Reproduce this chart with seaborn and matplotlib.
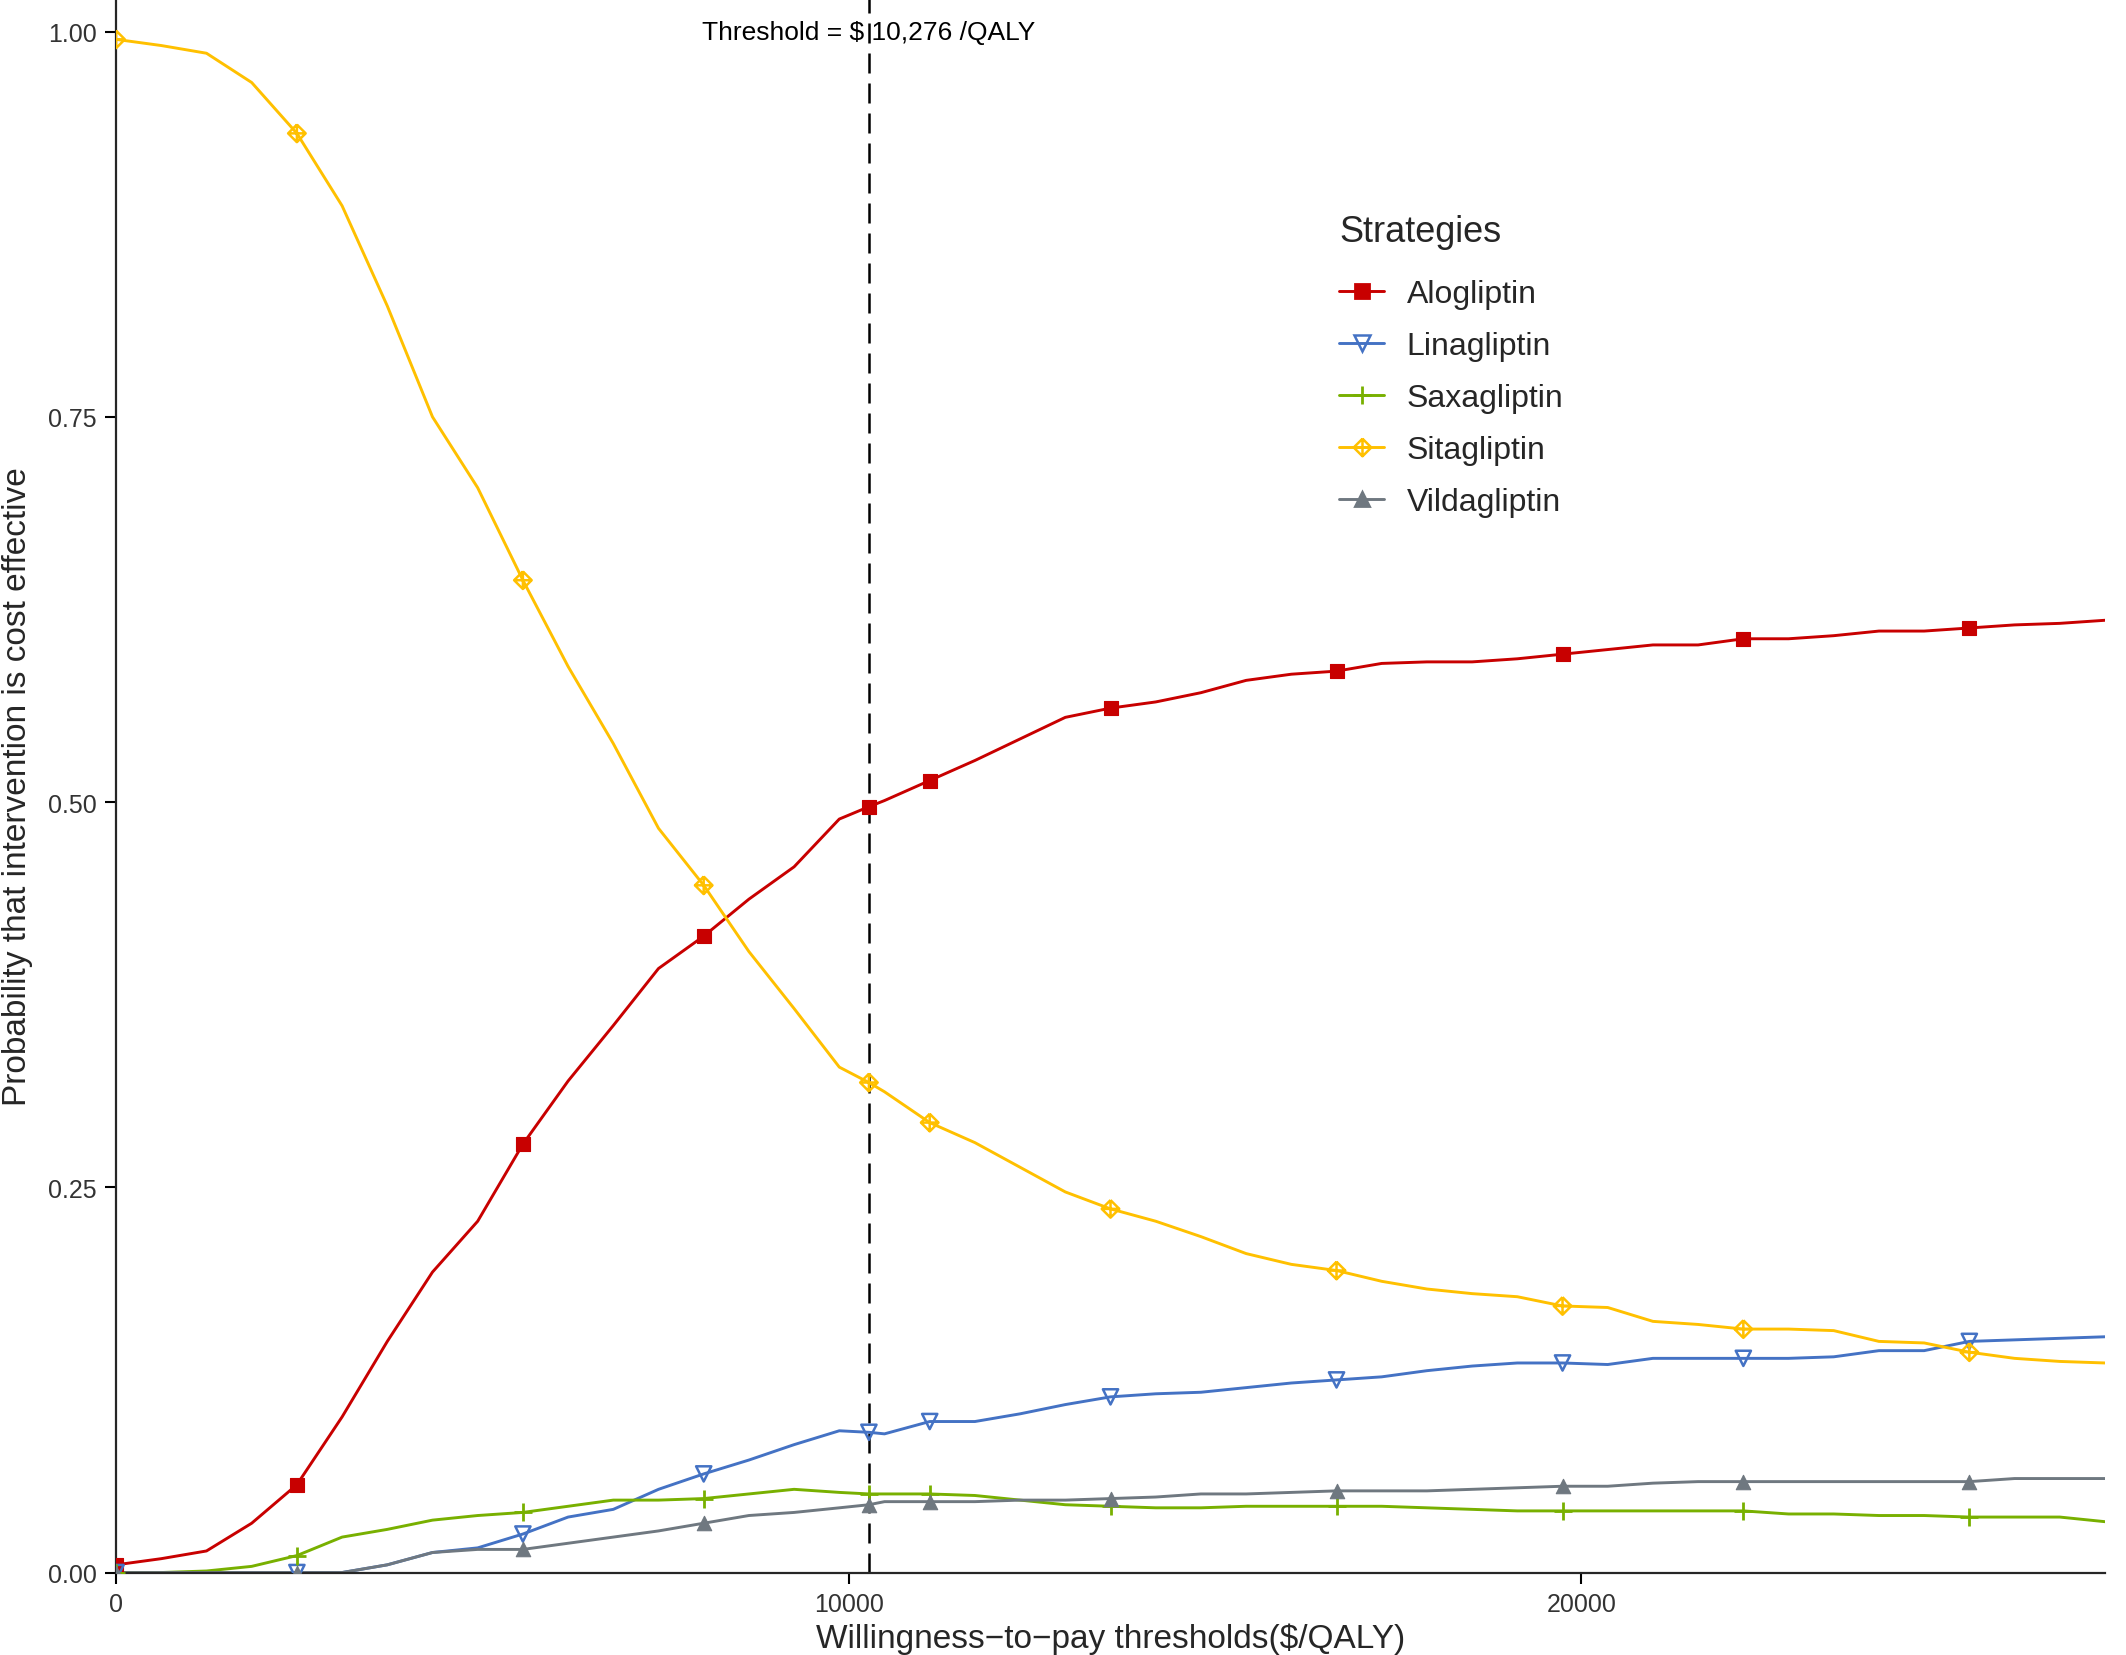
import numpy as np
import pandas as pd
import matplotlib
matplotlib.use("Agg")
import matplotlib.pyplot as plt
from matplotlib.path import Path
from matplotlib.lines import Line2D
import seaborn as sns

# willingness-to-pay grid ($/QALY), threshold point included
wtp = [0, 617, 1234, 1851, 2468, 3085, 3702, 4319, 4936, 5553, 6170, 6787,
       7404, 8021, 8638, 9255, 9872, 10276, 10489, 11106, 11723, 12340, 12957,
       13574, 14191, 14808, 15425, 16042, 16659, 17276, 17893, 18510, 19127,
       19744, 20361, 20978, 21595, 22212, 22829, 23446, 24063, 24680, 25297,
       25914, 26531, 27148]

alogliptin = [0.005, 0.009, 0.014, 0.032, 0.057, 0.101, 0.150, 0.195, 0.228, 0.278,
              0.319, 0.355, 0.392, 0.413, 0.437, 0.458, 0.489, 0.497, 0.501, 0.514,
              0.527, 0.541, 0.555, 0.561, 0.565, 0.571, 0.579, 0.583, 0.585, 0.590,
              0.591, 0.591, 0.593, 0.596, 0.599, 0.602, 0.602, 0.606, 0.606, 0.608,
              0.611, 0.611, 0.613, 0.615, 0.616, 0.618]
linagliptin = [0.0, 0.0, 0.0, 0.0, 0.0, 0.0, 0.005, 0.013, 0.016, 0.025,
               0.036, 0.041, 0.054, 0.064, 0.073, 0.083, 0.092, 0.091, 0.090, 0.098,
               0.098, 0.103, 0.109, 0.114, 0.116, 0.117, 0.120, 0.123, 0.125, 0.127,
               0.131, 0.134, 0.136, 0.136, 0.135, 0.139, 0.139, 0.139, 0.139, 0.140,
               0.144, 0.144, 0.150, 0.151, 0.152, 0.153]
saxagliptin = [0.0, 0.0, 0.001, 0.004, 0.011, 0.023, 0.028, 0.034, 0.037, 0.039,
               0.043, 0.047, 0.047, 0.048, 0.051, 0.054, 0.052, 0.051, 0.051, 0.051,
               0.050, 0.047, 0.044, 0.043, 0.042, 0.042, 0.043, 0.043, 0.043, 0.043,
               0.042, 0.041, 0.040, 0.040, 0.040, 0.040, 0.040, 0.040, 0.038, 0.038,
               0.037, 0.037, 0.036, 0.036, 0.036, 0.033]
sitagliptin = [0.995, 0.991, 0.986, 0.967, 0.934, 0.887, 0.822, 0.750, 0.704, 0.644,
               0.588, 0.538, 0.483, 0.446, 0.403, 0.366, 0.328, 0.318, 0.312, 0.292,
               0.279, 0.263, 0.247, 0.236, 0.228, 0.218, 0.207, 0.200, 0.196, 0.189,
               0.184, 0.181, 0.179, 0.173, 0.172, 0.163, 0.161, 0.158, 0.158, 0.157,
               0.150, 0.149, 0.143, 0.139, 0.137, 0.136]
vildagliptin = [0.0, 0.0, 0.0, 0.0, 0.0, 0.0, 0.005, 0.013, 0.015, 0.015,
                0.019, 0.023, 0.027, 0.032, 0.037, 0.039, 0.042, 0.044, 0.046, 0.046,
                0.046, 0.047, 0.047, 0.048, 0.049, 0.051, 0.051, 0.052, 0.053, 0.053,
                0.053, 0.054, 0.055, 0.056, 0.056, 0.058, 0.059, 0.059, 0.059, 0.059,
                0.059, 0.059, 0.059, 0.061, 0.061, 0.061]

# x values where a point symbol is drawn
marker_wtp = [0, 2468, 5553, 8021, 10276, 11106, 13574, 16659, 19744, 22212, 25297]

threshold = 10276
strategies = ["Alogliptin", "Linagliptin", "Saxagliptin", "Sitagliptin", "Vildagliptin"]

df = pd.DataFrame({
    "wtp": wtp * 5,
    "prob": alogliptin + linagliptin + saxagliptin + sitagliptin + vildagliptin,
    "Strategies": np.repeat(strategies, len(wtp)),
})

colors = {"Alogliptin": "#C80000", "Linagliptin": "#4472C4", "Saxagliptin": "#78B000",
          "Sitagliptin": "#FFC000", "Vildagliptin": "#6F7880"}

# diamond with a cross inside (ggplot shape 9)
diamond_plus = Path(
    [(0, 1), (1, 0), (0, -1), (-1, 0), (0, 1), (0, 1), (0, -1), (-1, 0), (1, 0)],
    [Path.MOVETO, Path.LINETO, Path.LINETO, Path.LINETO, Path.LINETO,
     Path.MOVETO, Path.LINETO, Path.MOVETO, Path.LINETO])

# marker, size, filled
marker_style = {
    "Alogliptin": ("s", 22, True),
    "Linagliptin": ("v", 30, False),
    "Saxagliptin": ("+", 45, None),
    "Sitagliptin": (diamond_plus, 40, False),
    "Vildagliptin": ("^", 27, True),
}

sns.set_style("ticks")
plt.rcParams["font.family"] = ["Liberation Sans", "DejaVu Sans"]

fig = plt.figure(figsize=(10.63, 8.28), dpi=200)
ax = fig.add_axes([0.0546, 0.0498, 0.9355, 0.9502])

sns.lineplot(data=df, x="wtp", y="prob", hue="Strategies", hue_order=strategies,
             palette=colors, linewidth=1.05, errorbar=None, legend=False, ax=ax, zorder=2)

ax.axvline(threshold, color="black", linewidth=0.9, dashes=(8, 4), zorder=1.5)

pts = df[df["wtp"].isin(marker_wtp)]
for name in strategies:
    m, s, filled = marker_style[name]
    sub = pts[pts["Strategies"] == name]
    c = colors[name]
    if filled is None:
        sns.scatterplot(data=sub, x="wtp", y="prob", marker=m, s=s, color=c,
                        linewidth=1.0, ax=ax, zorder=3, legend=False)
    elif filled:
        sns.scatterplot(data=sub, x="wtp", y="prob", marker=m, s=s, color=c,
                        edgecolor=c, linewidth=0.4, ax=ax, zorder=3, legend=False)
    else:
        sns.scatterplot(data=sub, x="wtp", y="prob", marker=m, s=s, color=c,
                        facecolor="none", edgecolor=c, linewidth=0.9, ax=ax,
                        zorder=3, legend=False)

ax.text(threshold, 1.0, "Threshold = $ 10,276 /QALY", ha="center", va="center",
        fontsize=9.5, color="black")

ax.set_xlim(0, 27148)
ax.set_ylim(0, 1.0212)
ax.set_xticks([0, 10000, 20000])
ax.set_yticks([0, 0.25, 0.5, 0.75, 1.0])
ax.set_yticklabels(["0.00", "0.25", "0.50", "0.75", "1.00"])
ax.tick_params(axis="both", labelsize=9, colors="black", labelcolor="#333333",
               length=4, width=0.75, pad=3)
for side in ["left", "bottom"]:
    ax.spines[side].set_linewidth(0.8)
sns.despine(ax=ax)

ax.set_xlabel("Willingness\u2212to\u2212pay thresholds($/QALY)", fontsize=12)
ax.set_ylabel("Probability that intervention is cost effective", fontsize=12)
ax.xaxis.set_label_coords(0.5, -0.032)
ax.yaxis.set_label_coords(-0.042, 0.5)

handles = []
for name in strategies:
    m, s, filled = marker_style[name]
    c = colors[name]
    ms = np.sqrt(s)
    if filled is False:
        h = Line2D([0], [0], color=c, lw=1.05, marker=m, markersize=ms,
                   markerfacecolor="none", markeredgecolor=c, markeredgewidth=0.9)
    else:
        h = Line2D([0], [0], color=c, lw=1.05, marker=m, markersize=ms,
                   markerfacecolor=c, markeredgecolor=c, markeredgewidth=1.0)
    handles.append(h)

leg = ax.legend(handles, strategies, title="Strategies", loc="upper left",
                bbox_to_anchor=(0.6225, 0.880), bbox_transform=fig.transFigure,
                frameon=False, fontsize=11.5, title_fontsize=13, borderpad=0,
                handlelength=1.4, handletextpad=0.7, labelspacing=0.69,
                alignment="left")
# a bit more room between the title and the first entry
leg._legend_box.sep = 11

fig.savefig("out.png", dpi=200)
